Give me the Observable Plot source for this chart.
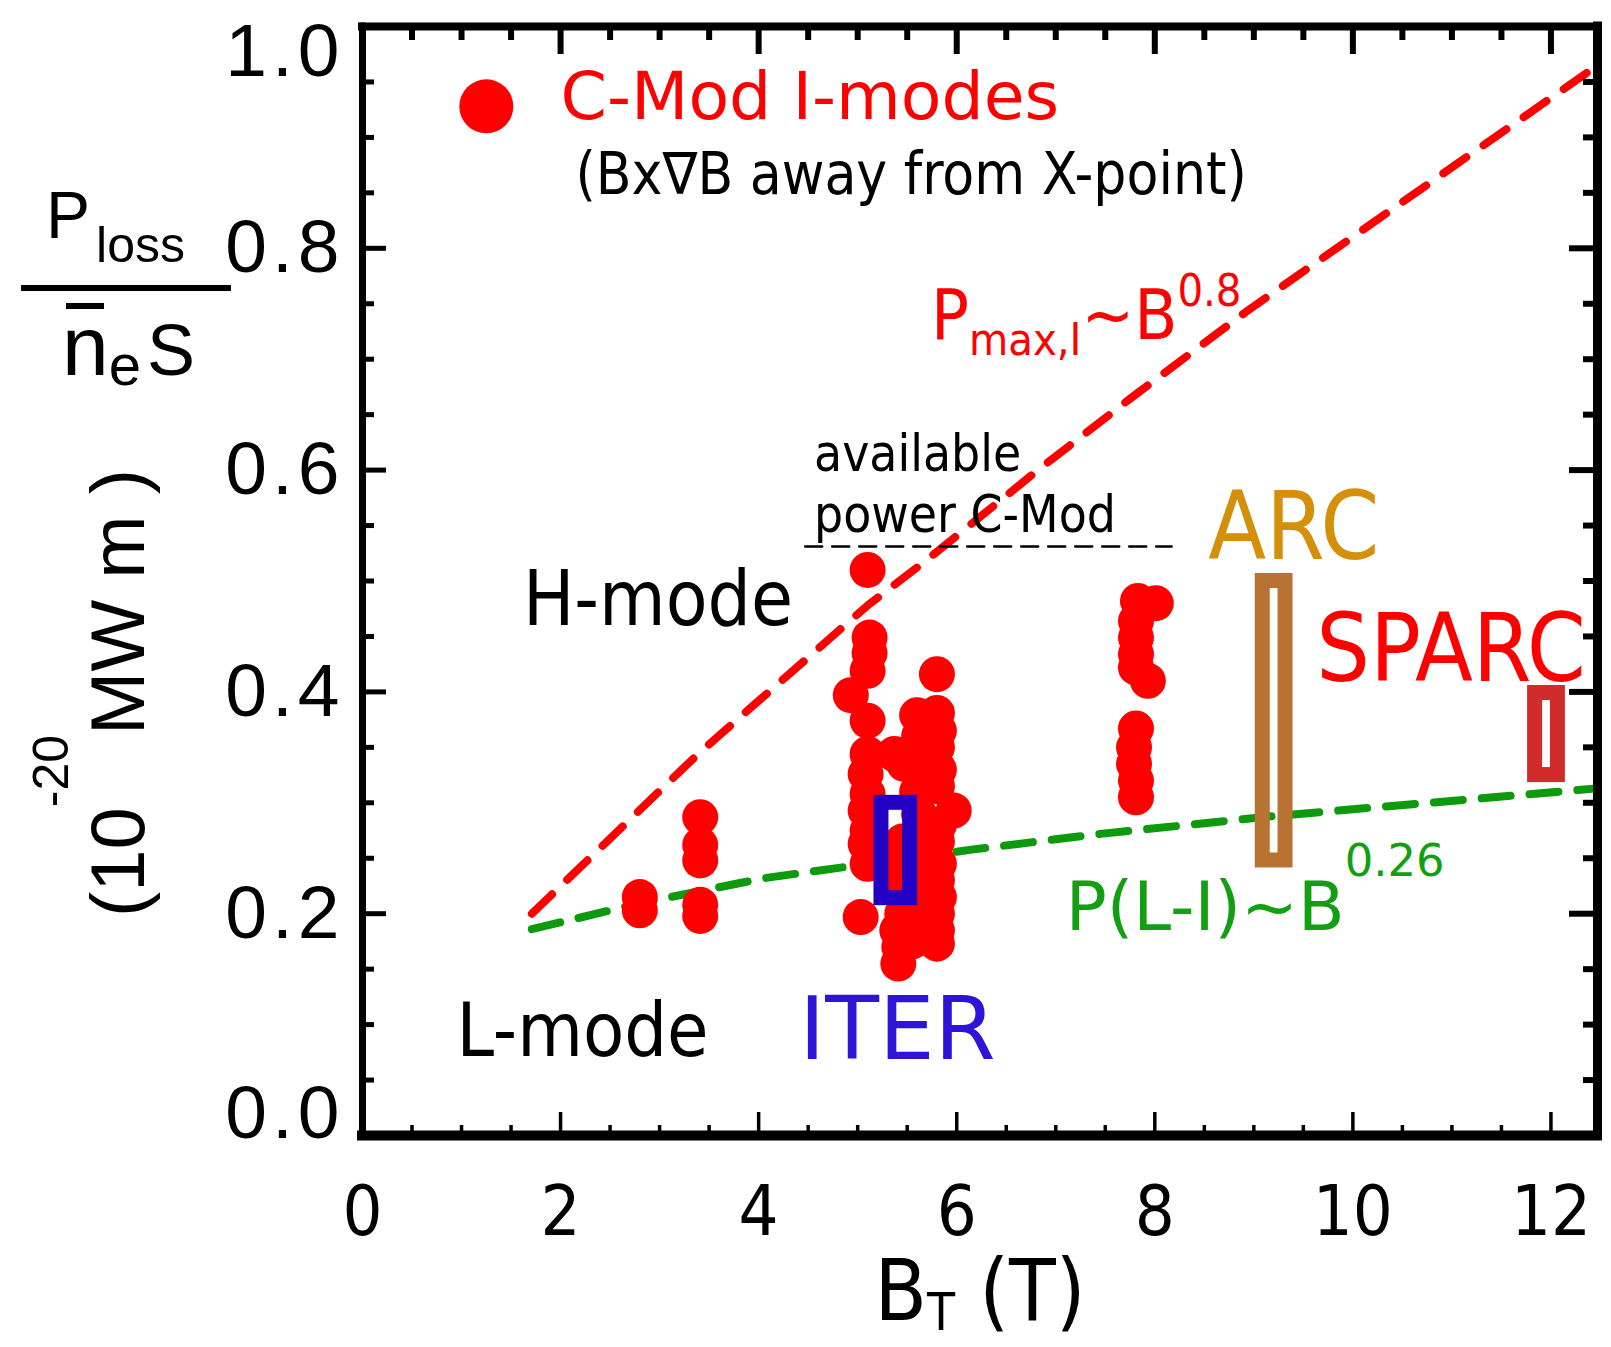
<!DOCTYPE html>
<html><head><meta charset="utf-8">
<script src="https://cdn.jsdelivr.net/npm/d3@7"></script>
<script src="https://cdn.jsdelivr.net/npm/@observablehq/plot@0.6"></script>
<style>
html,body{margin:0;padding:0;background:#fff;}
#chart{position:relative;width:1611px;height:1347px;overflow:hidden;}
g[font-family*="Condensed"]{font-stretch:condensed;}
g[font-family*="Helvetica"]{letter-spacing:5px;}
</style></head><body><div id="chart"></div>
<script>
// ---------------- data ----------------
// C-Mod I-mode points: B_T (T) and P_loss/(n_e S)
const imodeB = [2.80,2.80, 3.41,3.41,3.41,3.41,3.41,
  5.10,5.12,5.12,5.10,4.93,5.10,5.10,5.08,5.10,5.08,5.10,5.08,5.10,5.03,
  5.37,5.47,5.45,5.42,5.45,5.42,5.45,5.40,5.42,5.41,
  5.60,5.62,5.60,5.62,5.60,5.62,5.60,5.62,5.60,5.62,5.60,5.55,
  5.80,5.80,5.82,5.80,5.82,5.80,5.97,5.82,5.80,5.82,5.80,5.82,5.80,5.80,5.80,
  7.83,8.01,7.81,7.81,7.81,7.81,7.93,7.81,7.79,7.79,7.81,7.81];
const imodeP = [0.215,0.203, 0.287,0.262,0.248,0.208,0.198,
  0.510,0.449,0.435,0.419,0.397,0.374,0.344,0.326,0.308,0.293,0.275,0.263,0.245,0.197,
  0.344,0.335,0.265,0.250,0.235,0.220,0.200,0.185,0.170,0.155,
  0.379,0.360,0.345,0.330,0.310,0.290,0.270,0.250,0.230,0.210,0.190,0.175,
  0.416,0.381,0.365,0.350,0.330,0.315,0.293,0.280,0.265,0.245,0.230,0.215,0.200,0.185,0.173,
  0.482,0.480,0.464,0.449,0.434,0.422,0.410,0.367,0.350,0.335,0.320,0.305];
// P_max,I ~ B^0.8 (red dashed)
const pmaxB = [1.71, 3.40, 5.10, 5.67, 6.82, 7.76, 8.94, 12.47];
const pmaxP = [0.200, 0.345, 0.478, 0.517, 0.600, 0.665, 0.744, 0.965];
// P(L-I) ~ B^0.26 (green dashed)
const plhB = [1.71, 2.78, 4.05, 6.17, 7.45, 9.20, 12.47];
const plhP = [0.186, 0.209, 0.232, 0.258, 0.272, 0.288, 0.313];
// available power C-Mod
const availB = [4.47, 8.17];
const availP = [0.531, 0.531];
// devices
const deviceNames = ["ITER", "ARC", "SPARC"];
const deviceB1 = [5.24, 9.09, 11.84];
const deviceB2 = [5.53, 9.32, 12.07];
const deviceP1 = [0.214, 0.248, 0.325];
const deviceP2 = [0.300, 0.500, 0.399];
// ticks
const xTickValues = [0, 2, 4, 6, 8, 10, 12];
const yTickValues = [0.2, 0.4, 0.6, 0.8];
const yEdgeBottom = [0.0];
const yEdgeTop = [1.0];
// legend
const legendLabel = ["C-Mod I-modes"];
const legendB = [1.25];
const legendP = [0.928];
// annotations
const noteText = ["C-Mod I-modes", "(Bx\u2207B away from X-point)", "available", "power C-Mod",
  "H-mode", "L-mode", "ITER", "ARC", "SPARC", "P_{max,I}~B^{0.8}", "P(L-I)~B^{0.26}"];
const noteB = [2.00, 2.15, 4.56, 4.56, 1.62, 0.95, 4.41, 8.54, 9.63, 5.74, 7.10];
const noteP = [0.917, 0.849, 0.599, 0.544, 0.460, 0.072, 0.069, 0.520, 0.410, 0.718, 0.185];

// ---------------- styles ----------------
const COND = "'DejaVu Sans Condensed', 'DejaVu Sans', sans-serif";
const DEJ = "'DejaVu Sans', sans-serif";
const LIB = "'Liberation Sans', Arial, sans-serif";
const TICKF = "'Liberation Sans', Helvetica, sans-serif";
const noteStyle = {
  "C-Mod I-modes": {fill: "#ff0000", fontSize: 66.5, fontFamily: DEJ},
  "(Bx\u2207B away from X-point)": {fill: "#000", fontSize: 58, fontFamily: COND},
  "available": {fill: "#000", fontSize: 51, fontFamily: COND},
  "power C-Mod": {fill: "#000", fontSize: 51, fontFamily: COND},
  "H-mode": {fill: "#000", fontSize: 76, fontFamily: COND},
  "L-mode": {fill: "#000", fontSize: 75, fontFamily: COND},
  "ITER": {fill: "#2e14d8", fontSize: 88, fontFamily: DEJ},
  "ARC": {fill: "#d4900a", fontSize: 94, fontFamily: COND},
  "SPARC": {fill: "#ff0000", fontSize: 94, fontFamily: COND},
  "P_{max,I}~B^{0.8}": {fill: "#ff0000", fontSize: 70, fontFamily: COND},
  "P(L-I)~B^{0.26}": {fill: "#12a012", fontSize: 68, fontFamily: DEJ}
};
const richOpts = {
  "P_{max,I}~B^{0.8}": {sub: 0.22, sup: 0.47, scale: 0.64},
  "P(L-I)~B^{0.26}": {sub: 0.22, sup: 0.80, scale: 0.66},
  "B_{T} (T)": {sub: 0.12, sup: 0.4, scale: 0.6}
};
const deviceStroke = {ITER: "#2200c4", ARC: "#b87333", SPARC: "#d22b2b"};

// ---------------- tables ----------------
const imodes = imodeB.map((b, i) => ({b, p: imodeP[i]}));
const pmax = pmaxB.map((b, i) => ({b, p: pmaxP[i]}));
const plh = plhB.map((b, i) => ({b, p: plhP[i]}));
const avail = availB.map((b, i) => ({b, p: availP[i]}));
const devices = deviceNames.map((name, i) => ({name, b1: deviceB1[i], b2: deviceB2[i], p1: deviceP1[i], p2: deviceP2[i]}));
const legend = legendLabel.map((t, i) => ({t, b: legendB[i], p: legendP[i]}));
const notes = noteText.map((text, i) => ({text, b: noteB[i], p: noteP[i]}));

const W = 1611, H = 1347, mL = 362, mR = 14, mT = 26, mB = 212;
const innerW = W - mL - mR, innerH = H - mT - mB;
const xMax = 12.47;
const xMinor = d3.range(0.5, 12.5, 0.5).filter(v => v % 2 !== 0);
const yMinor = d3.range(1, 20).map(k => k / 20).filter(v => Math.round(v * 100) % 20 !== 0);

const svg = Plot.plot({
  width: W, height: H,
  marginLeft: mL, marginRight: mR, marginTop: mT, marginBottom: mB,
  x: {domain: [0, xMax]},
  y: {domain: [0, 1]},
  style: {background: "white", color: "black", overflow: "visible"},
  marks: [
    // data
    Plot.line(plh, {x: "b", y: "p", stroke: "#0d9a0d", strokeWidth: 8, strokeDasharray: "29,19"}),
    Plot.dot(imodes, {x: "b", y: "p", r: 18, fill: "#ff0000"}),
    Plot.line(pmax, {x: "b", y: "p", stroke: "#ff0000", strokeWidth: 8, strokeDasharray: "28,21"}),
    Plot.line(avail, {x: "b", y: "p", stroke: "#000", strokeWidth: 2.5, strokeDasharray: "17,10"}),
    Plot.rect(devices, {x1: "b1", x2: "b2", y1: "p1", y2: "p2", fill: "none",
      stroke: d => deviceStroke[d.name], strokeWidth: 15}),
    Plot.dot(legend, {x: "b", y: "p", r: 27, fill: "#ff0000"}),
    ...notes.map(n => Plot.text([n], {x: "b", y: "p", text: "text", textAnchor: "start", lineAnchor: "bottom", ...noteStyle[n.text]})),
    // inward ticks
    Plot.tickX(xTickValues, {insetTop: innerH - 23, strokeWidth: 3.5}),
    Plot.tickX(xMinor, {insetTop: innerH - 10, strokeWidth: 3.5}),
    Plot.tickX(xTickValues, {insetBottom: innerH - 28, strokeWidth: 6}),
    Plot.tickX(xMinor, {insetBottom: innerH - 14, strokeWidth: 6}),
    Plot.tickY(yTickValues, {insetRight: innerW - 24, strokeWidth: 5}),
    Plot.tickY(yMinor, {insetRight: innerW - 12, strokeWidth: 5}),
    Plot.tickY(yTickValues, {insetLeft: innerW - 28, strokeWidth: 6}),
    Plot.tickY(yMinor, {insetLeft: innerW - 14, strokeWidth: 6}),
    // frame
    Plot.ruleY([0], {strokeWidth: 10, strokeLinecap: "square"}),
    Plot.ruleY([1], {strokeWidth: 8, strokeLinecap: "square"}),
    Plot.ruleX([0], {strokeWidth: 7, strokeLinecap: "square"}),
    Plot.ruleX([xMax], {strokeWidth: 9, strokeLinecap: "square"}),
    // axes labels
    Plot.axisX({ticks: xTickValues, tickSize: 0, tickPadding: 50, fontSize: 70, fontFamily: COND, tickFormat: d => String(d), label: null}),
    Plot.axisY({ticks: yTickValues, tickSize: 0, tickPadding: 18, fontSize: 75, fontFamily: TICKF, tickFormat: d3.format(".1f"), label: null}),
    Plot.text(yEdgeBottom, {y: d => d, frameAnchor: "left", textAnchor: "end", lineAnchor: "bottom", dx: -18, dy: 2, fontSize: 75, fontFamily: TICKF, text: d3.format(".1f")}),
    Plot.text(yEdgeTop, {y: d => d, frameAnchor: "left", textAnchor: "end", lineAnchor: "top", dx: -18, dy: -4, fontSize: 75, fontFamily: TICKF, text: d3.format(".1f")}),
    Plot.text(["B_{T} (T)"], {frameAnchor: "bottom", lineAnchor: "bottom", dy: 184, fontSize: 85, fontFamily: COND, text: d => d})
  ]
});
document.getElementById("chart").appendChild(svg);

// rich text (sub/superscripts)
function richify(el, opts) {
  const raw = el.textContent;
  const fs = parseFloat(getComputedStyle(el).fontSize);
  el.textContent = "";
  const re = /([_^])\{([^}]*)\}|([^_^]+)/g;
  let m, cur = 0;
  while ((m = re.exec(raw)) !== null) {
    const ts = document.createElementNS("http://www.w3.org/2000/svg", "tspan");
    let target, txt, size = null;
    if (m[1]) { target = m[1] === "_" ? opts.sub * fs : -opts.sup * fs; txt = m[2]; size = fs * opts.scale; }
    else { target = 0; txt = m[3]; }
    ts.setAttribute("dy", target - cur); cur = target;
    if (size) ts.setAttribute("font-size", size);
    ts.textContent = txt;
    el.appendChild(ts);
  }
}
d3.select(svg).selectAll("text").each(function() {
  const t = this.textContent;
  if (richOpts[t]) richify(this, richOpts[t]);
});

// y-axis title (fraction + units)
const ov = d3.select(svg).append("g").attr("font-family", LIB).attr("fill", "black").attr("text-anchor", "start");
const t1 = ov.append("text").attr("x", 46).attr("y", 238);
t1.append("tspan").attr("font-size", 66).text("P");
t1.append("tspan").attr("font-size", 50).attr("dx", 6).attr("dy", 24).text("loss");
ov.append("line").attr("x1", 21).attr("x2", 231).attr("y1", 288).attr("y2", 288).attr("stroke", "black").attr("stroke-width", 6);
const t2 = ov.append("text").attr("x", 62).attr("y", 375);
t2.append("tspan").attr("font-size", 84).text("n");
t2.append("tspan").attr("font-size", 58).attr("dy", 10).text("e");
t2.append("tspan").attr("font-size", 72).attr("dx", 6).attr("dy", -10).text("S");
ov.append("line").attr("x1", 66).attr("x2", 104).attr("y1", 306).attr("y2", 306).attr("stroke", "black").attr("stroke-width", 6);
const t3 = ov.append("text").attr("text-anchor", "middle").attr("transform", "translate(144,693) rotate(-90)").attr("font-size", 76);
t3.append("tspan").text("(10");
t3.append("tspan").attr("font-size", 50).attr("dy", -76).text("-20");
t3.append("tspan").attr("dy", 76).text("MW m )");
</script>
</body></html>
